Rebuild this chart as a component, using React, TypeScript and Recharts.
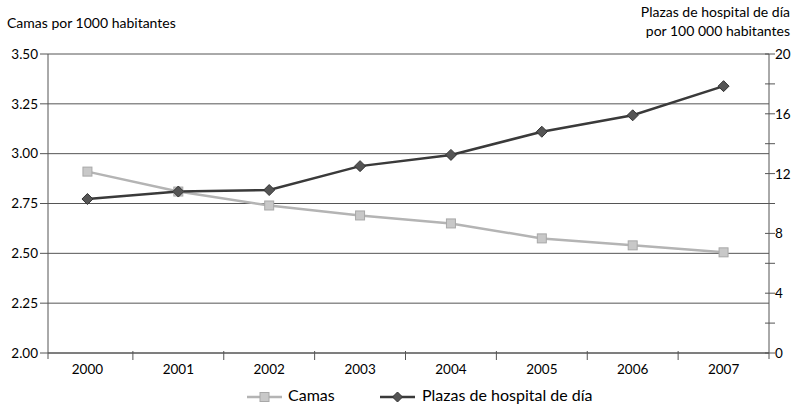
import React from "react";
import {
  LineChart,
  Line,
  XAxis,
  YAxis,
  CartesianGrid,
  Legend,
  Label,
} from "recharts";

const years = ["2000", "2001", "2002", "2003", "2004", "2005", "2006", "2007"];
const camas = [2.91, 2.81, 2.74, 2.69, 2.65, 2.575, 2.54, 2.505];
const plazas = [10.3, 10.8, 10.9, 12.5, 13.25, 14.8, 15.9, 17.85];
const leftTicks = [2, 2.25, 2.5, 2.75, 3, 3.25, 3.5];
const rightTicks = [0, 2, 4, 6, 8, 10, 12, 14, 16, 18, 20];

const data = years.map((y, i) => ({ year: y, camas: camas[i], plazas: plazas[i] }));

const FONT = "Lato, 'Open Sans', sans-serif";
const CAMAS_COLOR = "#b4b4b4";
const PLAZAS_COLOR = "#3a3a3a";
const AXIS = "#555";

const SquareDot = (props: any) => {
  const { cx, cy } = props;
  if (cx == null || cy == null) return null;
  return <rect x={cx - 4.5} y={cy - 4.5} width={9} height={9} fill="#c8c8c8" stroke="#a8a8a8" strokeWidth={1} />;
};

const DiamondDot = (props: any) => {
  const { cx, cy } = props;
  if (cx == null || cy == null) return null;
  const r = 5.5;
  return (
    <polygon
      points={`${cx},${cy - r} ${cx + r},${cy} ${cx},${cy + r} ${cx - r},${cy}`}
      fill="#555"
      stroke="#333"
      strokeWidth={1}
    />
  );
};

const YearTick = (props: any) => {
  const { x, y, payload, index } = props;
  const half = payload && payload.offset ? payload.offset : 45.5;
  return (
    <g>
      {index > 0 && <line x1={x - half} x2={x - half} y1={y - 10} y2={y - 1} stroke={AXIS} />}
      <text x={x} y={y + 13} textAnchor="middle" fontSize={13.5} fontFamily={FONT} fill="#000">
        {payload.value}
      </text>
    </g>
  );
};

// right axis: tick marks cross the axis, labels only every 4
const RightTick = (props: any) => {
  const { x, y, payload } = props;
  return (
    <g>
      <line x1={x - 10} x2={x - 6} y1={y} y2={y} stroke={AXIS} />
      {payload.value % 4 === 0 && (
        <text x={x} y={y + 5} textAnchor="start" fontSize={13.5} fontFamily={FONT} fill="#000">
          {payload.value}
        </text>
      )}
    </g>
  );
};

const LegendContent = () => (
  <div style={{ position: "relative", height: 25, fontFamily: FONT, fontSize: 16, color: "#000" }}>
    <svg width={40} height={20} style={{ position: "absolute", left: 246, top: 4 }}>
      <line x1={1} x2={36} y1={10} y2={10} stroke={CAMAS_COLOR} strokeWidth={2.5} />
      <rect x={14} y={5.5} width={9} height={9} fill="#c8c8c8" stroke="#a8a8a8" />
    </svg>
    <span style={{ position: "absolute", left: 288, top: 2 }}>Camas</span>
    <svg width={40} height={20} style={{ position: "absolute", left: 379, top: 4 }}>
      <line x1={1} x2={36} y1={10} y2={10} stroke={PLAZAS_COLOR} strokeWidth={2.5} />
      <polygon points="18.5,5 23.5,10 18.5,15 13.5,10" fill="#555" stroke="#333" />
    </svg>
    <span style={{ position: "absolute", left: 422, top: 2 }}>Plazas de hospital de día</span>
  </div>
);

export default function App() {
  return (
    <div style={{ position: "absolute", left: 0, top: 0, background: "#fff" }}>
      <LineChart width={797} height={408} data={data} margin={{ top: 54, right: 0, bottom: 0, left: 0 }}>
        <CartesianGrid yAxisId="left" vertical={false} stroke={AXIS} strokeWidth={1} />
        <XAxis
          dataKey="year"
          scale="band"
          padding={{ left: -6, right: 0 }}
          height={30}
          axisLine={{ stroke: AXIS }}
          tickLine={false}
          tick={<YearTick />}
          interval={0}
        />
        <YAxis
          yAxisId="left"
          width={48}
          domain={[2, 3.5]}
          ticks={leftTicks}
          tickFormatter={(v: number) => v.toFixed(2)}
          axisLine={{ stroke: AXIS }}
          tickLine={{ stroke: AXIS }}
          tickSize={8}
          tickMargin={2}
          tick={{ fontSize: 13.5, fontFamily: FONT, fill: "#000" }}
          allowDataOverflow
        >
          <Label
            content={(p: any) => {
              const vb = p.viewBox || {};
              const ax = (vb.x ?? 0) + (vb.width ?? 48);
              const by = (vb.y ?? 54) + (vb.height ?? 299);
              return (
                <g>
                  <line x1={ax} x2={ax} y1={by} y2={by + 6} stroke={AXIS} />
                  <text x={7} y={28} fontSize={14} fontFamily={FONT} fill="#000">
                    Camas por 1000 habitantes
                  </text>
                </g>
              );
            }}
          />
        </YAxis>
        <YAxis
          yAxisId="right"
          orientation="right"
          width={28}
          domain={[0, 20]}
          ticks={rightTicks}
          axisLine={{ stroke: AXIS }}
          tickLine={{ stroke: AXIS }}
          tickSize={6}
          tickMargin={0}
          tick={<RightTick />}
          allowDataOverflow
        >
          <Label
            content={(p: any) => {
              const vb = p.viewBox || {};
              const ax = vb.x ?? 769;
              const by = (vb.y ?? 54) + (vb.height ?? 299);
              return (
                <g>
                  <line x1={ax} x2={ax} y1={by} y2={by + 6} stroke={AXIS} />
                  <text fontSize={14} fontFamily={FONT} fill="#000" textAnchor="end">
                    <tspan x={790} y={17}>Plazas de hospital de día</tspan>
                    <tspan x={790} y={36}>por 100 000 habitantes</tspan>
                  </text>
                </g>
              );
            }}
          />
        </YAxis>
        <Legend verticalAlign="bottom" height={25} content={<LegendContent />} />
        <Line
          yAxisId="left"
          dataKey="camas"
          name="Camas"
          type="linear"
          stroke={CAMAS_COLOR}
          strokeWidth={2.5}
          dot={<SquareDot />}
          activeDot={false}
          isAnimationActive={false}
        />
        <Line
          yAxisId="right"
          dataKey="plazas"
          name="Plazas de hospital de día"
          type="linear"
          stroke={PLAZAS_COLOR}
          strokeWidth={2.5}
          dot={<DiamondDot />}
          activeDot={false}
          isAnimationActive={false}
        />
      </LineChart>
    </div>
  );
}
